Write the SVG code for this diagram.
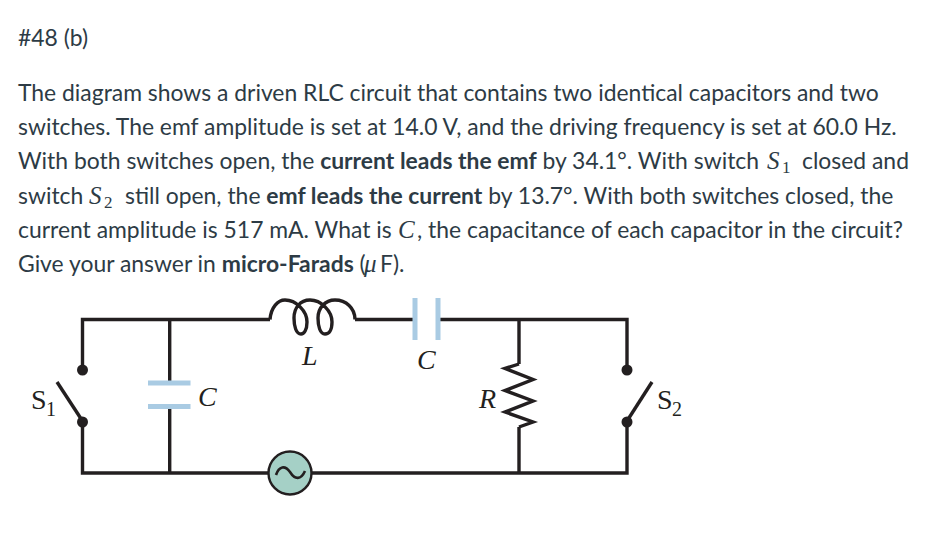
<svg xmlns="http://www.w3.org/2000/svg" width="926" height="546" viewBox="0 0 926 546">
<style>
.t{font:22.9px Lato,"Open Sans",sans-serif;fill:#2d3b45}
.b{font-weight:700}
.m{font:italic 25px "Liberation Serif",serif;fill:#2d3b45}
.s{font:17px "Liberation Serif",serif;fill:#2d3b45}
.w{fill:none;stroke:#231f20;stroke-width:3.4;stroke-linejoin:miter}
.p{fill:#231f20}
.cap{fill:#a9cbe3}
.l{font:italic 28px "Liberation Serif",serif;fill:#231f20}
.n{font:28px "Liberation Serif",serif;fill:#231f20}
.ns{font:20px "Liberation Serif",serif;fill:#231f20}
</style>
<rect width="926" height="546" fill="#fff"/>
<g id="question">
<text class="t" x="18" y="46">#48 (b)</text>
<text class="t" x="18" y="101">The diagram shows a driven RLC circuit that contains two identical capacitors and two</text>
<text class="t" x="18" y="135">switches. The emf amplitude is set at 14.0 V, and the driving frequency is set at 60.0 Hz.</text>
<text class="t" x="18" y="169">With both switches open, the <tspan class="b">current leads the emf</tspan> by 34.1°. With switch</text>
<text class="m" x="767" y="169">S</text><text class="s" x="782" y="173">1</text>
<text class="t" x="802" y="169">closed and</text>
<text class="t" x="18" y="204">switch</text>
<text class="m" x="89" y="204">S</text><text class="s" x="104" y="208">2</text>
<text class="t" x="125" y="204">still open, the <tspan class="b">emf leads the current</tspan> by 13.7°. With both switches closed, the</text>
<text class="t" x="18" y="238">current amplitude is 517 mA. What is</text>
<text class="m" x="398" y="238">C</text>
<text class="t" x="417" y="238">, the capacitance of each capacitor in the circuit?</text>
<text class="t" x="18" y="272">Give your answer in <tspan class="b">micro-Farads</tspan> (</text>
<text class="m" x="364" y="272">μ</text>
<text class="t" x="380" y="272">F).</text>
</g>
<g id="connectors">
<path class="w" d="M82.5,370V319.5H270M355,319.5H415M438,319.5H627V370"/>
<path class="w" d="M82.5,421V473H269M311,473H627V421"/>
<path class="w" d="M169.700,319.500V383M169.700,406V473"/>
<path class="w" d="M519,319.500V364M519,427V473"/>
</g>
<g id="switch-s1">
<circle class="p" cx="82.500" cy="370" r="5.500"/><circle class="p" cx="82.500" cy="422" r="5.500"/>
<path class="w" d="M57,382L82.500,421"/>
<text class="n" x="31" y="409">S</text><text class="ns" x="46" y="416">1</text>
</g>
<g id="capacitor-c1">
<rect class="cap" x="148" y="380.500" width="42.500" height="5"/><rect class="cap" x="148" y="404" width="42.500" height="5"/>
<text class="l" x="198" y="406">C</text>
</g>
<g id="inductor-l">
<path class="w" d="M270,319.500C271,307 278,300 285,300C296,300 307,311 307,322C307,330 304,334 301,334C296,334 294,326 294,318C294,308 300,300 310,300C321,300 332,311 332,322C332,330 329,334 325,334C320,334 318,326 318,318C318,308 325,300 335,300C346,300 355,308 355,319.500"/>
<text class="l" x="302" y="365">L</text>
</g>
<g id="capacitor-c2">
<rect class="cap" x="412.500" y="298" width="5" height="42"/><rect class="cap" x="435.500" y="298" width="5" height="42"/>
<text class="l" x="417" y="369">C</text>
</g>
<g id="resistor-r">
<path class="w" d="M519,364L505,368.500L533,379.500L505,390.500L533,401L505,412L533,422L519,427"/>
<text class="l" x="479" y="408">R</text>
</g>
<g id="switch-s2">
<circle class="p" cx="627" cy="370" r="5.500"/><circle class="p" cx="627" cy="422" r="5.500"/>
<path class="w" d="M652,382L627,421"/>
<text class="n" x="657" y="409">S</text><text class="ns" x="672" y="416">2</text>
</g>
<g id="source">
<circle cx="290" cy="473" r="21.500" fill="#a5d0c6" stroke="#231f20" stroke-width="2.400"/>
<path fill="none" stroke="#231f20" stroke-width="2.600" d="M276,475C279,466 285,465 290,472C295,480 301,480 305,471"/>
</g>
</svg>
